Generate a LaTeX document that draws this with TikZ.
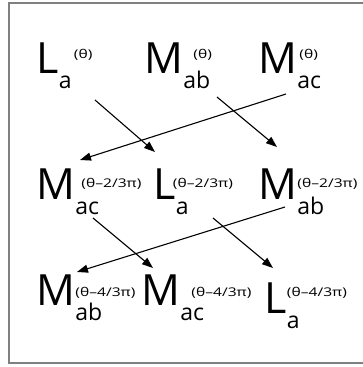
\documentclass[tikz,border=0pt]{standalone}
\usepackage{fontspec}
\setmainfont{Open Sans}
\usetikzlibrary{arrows.meta,positioning}

\begin{document}
\begin{tikzpicture}[x=1pt, y=1pt,
      big/.style={font=\fontsize{43}{43}\selectfont, inner sep=0pt, anchor=base west},
      subtxt/.style={font=\fontsize{23}{23}\selectfont, inner sep=0pt, anchor=base west},
      suptxt/.style={font=\fontsize{12}{12}\selectfont, inner sep=0pt, anchor=base west, xscale=1.3, transform shape},
      arr/.style={-{Triangle[length=11pt,width=8pt]}, line width=1.1pt},
    ]
      \useasboundingbox (0,0) rectangle (363,367);
      \draw[gray, line width=2pt] (9,364) rectangle (375,4);
      % theta
      \node[big] (La0) at (36,293) {L};
      \node[subtxt] (La0s) at ([yshift=-15pt]La0.base east) {a};
      \node[suptxt] (La0p) at ([xshift=15pt,yshift=15pt]La0.base east) {(θ)};
      \node[big] (Mab0) at (144,293) {M};
      \node[subtxt] (Mab0s) at ([yshift=-15pt]Mab0.base east) {ab};
      \node[suptxt] (Mab0p) at ([xshift=10pt,yshift=15pt]Mab0.base east) {(θ)};
      \node[big] (Mac0) at (258,293) {M};
      \node[subtxt] (Mac0s) at ([yshift=-15pt]Mac0.base east) {ac};
      \node[suptxt] (Mac0p) at ([xshift=2pt,yshift=15pt]Mac0.base east) {(θ)};
      % theta - 2/3 pi
      \node[big] (Mac1) at (36,167) {M};
      \node[subtxt] (Mac1s) at ([yshift=-15pt]Mac1.base east) {ac};
      \node[suptxt] (Mac1p) at ([xshift=6pt,yshift=12.5pt]Mac1.base east) {(θ–2/3π)};
      \node[big] (La1) at (153,167) {L};
      \node[subtxt] (La1s) at ([yshift=-15pt]La1.base east) {a};
      \node[suptxt] (La1p) at ([xshift=-3pt,yshift=12.5pt]La1.base east) {(θ–2/3π)};
      \node[big] (Mab1) at (258,167) {M};
      \node[subtxt] (Mab1s) at ([yshift=-15pt]Mab1.base east) {ab};
      \node[suptxt] (Mab1p) at ([yshift=12.5pt]Mab1.base east) {(θ–2/3π)};
      % theta - 4/3 pi
      \node[big] (Mab2) at (36,61) {M};
      \node[subtxt] (Mab2s) at ([yshift=-15pt]Mab2.base east) {ab};
      \node[suptxt] (Mab2p) at ([yshift=9pt]Mab2.base east) {(θ–4/3π)};
      \node[big] (Mac2) at (141,61) {M};
      \node[subtxt] (Mac2s) at ([yshift=-15pt]Mac2.base east) {ac};
      \node[suptxt] (Mac2p) at ([xshift=11pt,yshift=9pt]Mac2.base east) {(θ–4/3π)};
      \node[big] (La2) at (264,53) {L};
      \node[subtxt] (La2s) at ([yshift=-15pt]La2.base east) {a};
      \node[suptxt] (La2p) at ([yshift=17pt]La2.base east) {(θ–4/3π)};
      % arrows
      \draw[arr] ([xshift=59pt,yshift=-26pt]La0.base west) -- ([xshift=2pt,yshift=48pt]La1.base west);
      \draw[arr] ([xshift=73pt,yshift=-23pt]Mab0.base west) -- ([xshift=19pt,yshift=53pt]Mab1.base west);
      \draw[arr] ([xshift=28pt,yshift=-20pt]Mac0.base west) -- ([xshift=44pt,yshift=40pt]Mac1.base west);
      \draw[arr] ([xshift=57pt,yshift=-18pt]Mac1.base west) -- ([xshift=12pt,yshift=38pt]Mac2.base west);
      \draw[arr] ([xshift=60pt,yshift=-18pt]La1.base west) -- ([xshift=9pt,yshift=46pt]La2.base west);
      \draw[arr] ([xshift=27pt,yshift=-7pt]Mab1.base west) -- ([xshift=41pt,yshift=34pt]Mab2.base west);
    \end{tikzpicture}
\end{document}
